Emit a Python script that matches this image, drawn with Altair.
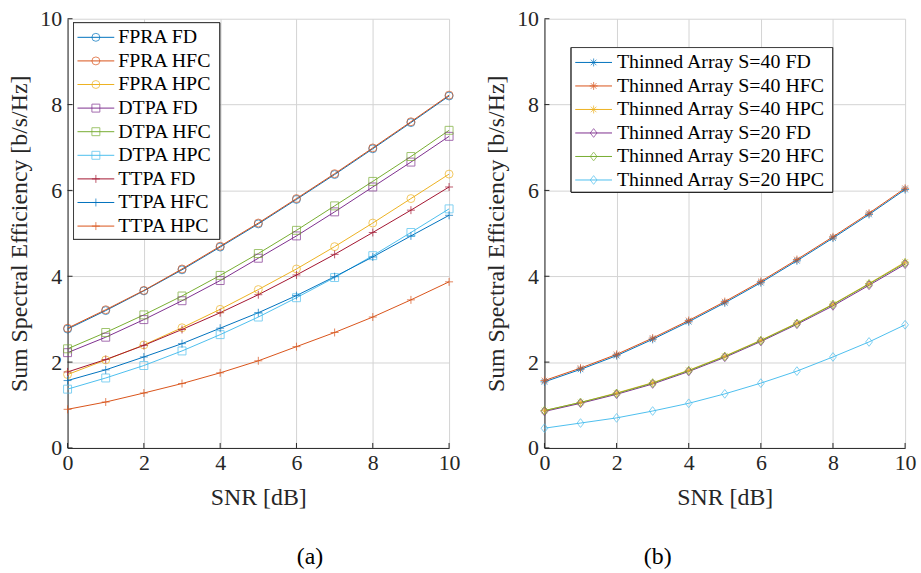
import altair as alt
import pandas as pd

snr = [0, 1, 2, 3, 4, 5, 6, 7, 8, 9, 10]

names_a = ["FPRA FD", "FPRA HFC", "FPRA HPC", "DTPA FD", "DTPA HFC",
           "DTPA HPC", "TTPA FD", "TTPA HFC", "TTPA HPC"]
fpra_fd = [2.77, 3.20, 3.66, 4.15, 4.68, 5.22, 5.79, 6.37, 6.97, 7.58, 8.20]
fpra_hfc = [2.79, 3.22, 3.67, 4.17, 4.70, 5.24, 5.81, 6.39, 6.99, 7.60, 8.22]
fpra_hpc = [1.71, 2.05, 2.40, 2.80, 3.23, 3.69, 4.17, 4.69, 5.24, 5.81, 6.38]
dtpa_fd = [2.22, 2.58, 2.99, 3.43, 3.90, 4.42, 4.94, 5.50, 6.08, 6.66, 7.26]
dtpa_hfc = [2.31, 2.69, 3.10, 3.54, 4.02, 4.53, 5.07, 5.64, 6.21, 6.79, 7.40]
dtpa_hpc = [1.37, 1.63, 1.92, 2.26, 2.64, 3.05, 3.50, 3.97, 4.48, 5.02, 5.57]
ttpa_fd = [1.77, 2.06, 2.39, 2.76, 3.15, 3.57, 4.03, 4.51, 5.02, 5.54, 6.08]
ttpa_hfc = [1.57, 1.82, 2.12, 2.43, 2.79, 3.15, 3.55, 3.99, 4.45, 4.94, 5.42]
ttpa_hpc = [0.90, 1.07, 1.28, 1.50, 1.75, 2.03, 2.36, 2.69, 3.05, 3.45, 3.87]
values_a = [fpra_fd, fpra_hfc, fpra_hpc, dtpa_fd, dtpa_hfc, dtpa_hpc,
            ttpa_fd, ttpa_hfc, ttpa_hpc]

names_b = ["Thinned Array S=40 FD", "Thinned Array S=40 HFC", "Thinned Array S=40 HPC",
           "Thinned Array S=20 FD", "Thinned Array S=20 HFC", "Thinned Array S=20 HPC"]
s40_fd = [1.54, 1.83, 2.15, 2.53, 2.94, 3.38, 3.85, 4.36, 4.89, 5.44, 6.02]
s40_hfc = [1.57, 1.86, 2.18, 2.56, 2.97, 3.41, 3.88, 4.39, 4.92, 5.47, 6.05]
s40_hpc = [0.87, 1.06, 1.28, 1.52, 1.81, 2.14, 2.51, 2.91, 3.35, 3.83, 4.33]
s20_fd = [0.85, 1.04, 1.25, 1.49, 1.78, 2.11, 2.48, 2.88, 3.31, 3.79, 4.28]
s20_hfc = [0.87, 1.06, 1.27, 1.51, 1.80, 2.13, 2.50, 2.90, 3.34, 3.82, 4.31]
s20_hpc = [0.46, 0.58, 0.70, 0.86, 1.04, 1.26, 1.51, 1.79, 2.12, 2.47, 2.87]
values_b = [s40_fd, s40_hfc, s40_hpc, s20_fd, s20_hfc, s20_hpc]

axis_ticks = [0, 2, 4, 6, 8, 10]

BLUE, ORANGE, YELLOW = "#0072BD", "#D95319", "#EDB120"
PURPLE, GREEN, CYAN, DARKRED = "#7E2F8E", "#77AC30", "#4DBEEE", "#A2142F"
colors_a = [BLUE, ORANGE, YELLOW, PURPLE, GREEN, CYAN, DARKRED, BLUE, ORANGE]
colors_b = [BLUE, ORANGE, YELLOW, PURPLE, GREEN, CYAN]

PLUS = "M-1,0L1,0M0,-1L0,1"
STAR = "M-1,0L1,0M0,-1L0,1M-0.7,-0.7L0.7,0.7M-0.7,0.7L0.7,-0.7"
DIAM = "M0,-1.1L0.85,0L0,1.1L-0.85,0Z"
shapes_a = ["circle"] * 3 + ["square"] * 3 + [PLUS] * 3
shapes_b = [STAR] * 3 + [DIAM] * 3

FONT = "Liberation Serif, Times New Roman, serif"
TXT = "#262626"
H = 432


def panel(names, values, colors, shapes, width, leg, caption, cap_x):
    rows = []
    for n, vals in zip(names, values):
        for x, v in zip(snr, vals):
            rows.append({"series": n, "snr": x, "se": v})
    df = pd.DataFrame(rows)
    order = {n: i for i, n in enumerate(names)}
    df["ord"] = df["series"].map(order)

    xs = alt.Scale(domain=[0, 10], nice=False)
    ys = alt.Scale(domain=[0, 10], nice=False)
    cs = alt.Scale(domain=names, range=colors)
    ss = alt.Scale(domain=names, range=shapes)
    xaxis = alt.Axis(title="SNR [dB]", values=axis_ticks, grid=True, labelFlush=False,
                     ticks=False, labelPadding=5, titlePadding=12)
    yaxis = alt.Axis(title="Sum Spectral Efficiency [b/s/Hz]", values=axis_ticks,
                     grid=True, ticks=False, labelFlush=False, labelPadding=6, titlePadding=8)

    base = alt.Chart(df)
    lines = base.mark_line(strokeWidth=1).encode(
        x=alt.X("snr:Q", scale=xs, axis=xaxis),
        y=alt.Y("se:Q", scale=ys, axis=yaxis),
        color=alt.Color("series:N", scale=cs, legend=None),
        order=alt.Order("ord:Q"),
    )
    pts = base.mark_point(filled=False, size=64, strokeWidth=1).encode(
        x=alt.X("snr:Q", scale=xs, axis=xaxis),
        y=alt.Y("se:Q", scale=ys, axis=None),
        color=alt.Color("series:N", scale=cs, legend=None),
        shape=alt.Shape("series:N", scale=ss, legend=None),
    )

    tdf = pd.DataFrame({"snr": axis_ticks})
    xt = alt.Chart(tdf).mark_rule(color=TXT, strokeWidth=1).encode(
        x=alt.X("snr:Q", scale=xs, axis=xaxis), y=alt.value(H), y2=alt.value(H - 5))
    yt = alt.Chart(tdf).mark_rule(color=TXT, strokeWidth=1).encode(
        y=alt.Y("snr:Q", scale=ys, axis=None), x=alt.value(0), x2=alt.value(5))

    ldf = pd.DataFrame({"series": names, "row": list(range(len(names)))})
    rs = alt.Scale(domain=[0, len(names) - 1], range=[leg["r0"], leg["r1"]], nice=False, zero=False)
    lb = alt.Chart(ldf).mark_rect(fill="white", stroke=TXT, strokeWidth=0.8).encode(
        x=alt.value(leg["bx1"]), x2=alt.value(leg["bx2"]),
        y=alt.value(leg["by1"]), y2=alt.value(leg["by2"]))
    lr = alt.Chart(ldf).mark_rule(strokeWidth=1).encode(
        x=alt.value(leg["lx1"]), x2=alt.value(leg["lx2"]),
        y=alt.Y("row:Q", scale=rs, axis=None),
        color=alt.Color("series:N", scale=cs, legend=None))
    lp = alt.Chart(ldf).mark_point(filled=False, size=64, strokeWidth=1).encode(
        x=alt.value((leg["lx1"] + leg["lx2"]) / 2),
        y=alt.Y("row:Q", scale=rs, axis=None),
        color=alt.Color("series:N", scale=cs, legend=None),
        shape=alt.Shape("series:N", scale=ss, legend=None))
    ltx = alt.Chart(ldf).mark_text(align="left", baseline="middle", font=FONT,
                                   fontSize=20, color="black").encode(
        x=alt.value(leg["tx"]), y=alt.Y("row:Q", scale=rs, axis=None),
        text="series:N")

    cdf = pd.DataFrame({"c": [caption]})
    cap = alt.Chart(cdf).mark_text(align="center", baseline="middle", font=FONT,
                                   fontSize=24, color="black").encode(
        x=alt.value(cap_x), y=alt.value(542), text="c:N")

    return alt.layer(lines, pts, xt, yt, lb, lr, lp, ltx, cap).resolve_scale(
        y="independent").properties(width=width, height=H)


left = panel(names_a, values_a, colors_a, shapes_a, 384,
             dict(bx1=6, bx2=153, by1=4, by2=222, r0=18.7, r1=208.7,
                  lx1=10, lx2=47, tx=51), "(a)", 244)
right = panel(names_b, values_b, colors_b, shapes_b, 363,
              dict(bx1=27, bx2=290, by1=29, by2=174.5, r0=44, r1=162.3,
                   lx1=31, lx2=68, tx=73), "(b)", 114)

chart = alt.hconcat(left, right, spacing=25).resolve_scale(
    color="independent", shape="independent", x="independent", y="independent"
).properties(
    padding={"left": 8, "top": 6, "right": 5, "bottom": 0},
    background="white",
).configure(font=FONT).configure_view(stroke=None).configure_axis(
    domainColor=TXT, domainWidth=1, labelColor=TXT, titleColor=TXT,
    labelFont=FONT, titleFont=FONT, labelFontSize=22, titleFontSize=24,
    titleFontWeight="normal", gridColor="#d4d4d4", gridWidth=1,
)

chart.save("out.html", embed_options={"renderer": "svg", "actions": False})
